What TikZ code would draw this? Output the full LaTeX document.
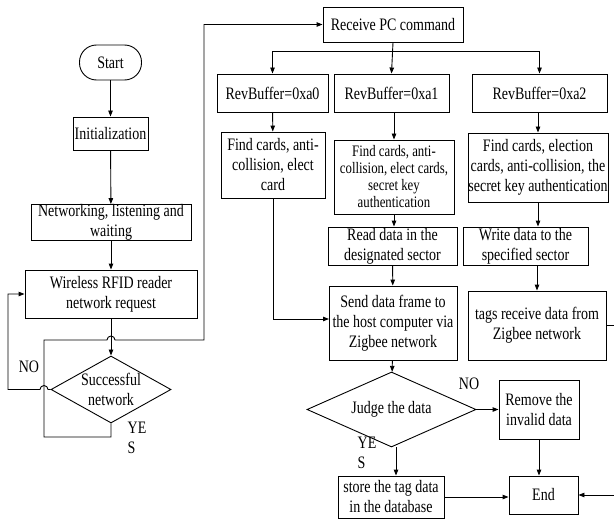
\documentclass[tikz,border=0pt]{standalone}
\usepackage{fontspec}
\setmainfont{Liberation Serif}[FakeStretch=0.8]
\usetikzlibrary{arrows.meta,shapes.geometric}
\begin{document}
\begin{tikzpicture}[x=1pt,y=-1pt,
  every node/.style={font=\fontsize{17.5}{20}\selectfont},
  box/.style={draw,line width=0.9pt,inner sep=0pt,align=center},
  small/.style={font=\fontsize{16}{17}\selectfont},
  lbl/.style={inner sep=0pt,align=center},
  arr/.style={line width=0.9pt,-{Triangle[length=6pt,width=4.5pt]}},
  ln/.style={line width=0.9pt}]
\useasboundingbox (0,0) rectangle (614,519);
% left column
\node[box,rounded corners=17pt,minimum width=62,minimum height=35] (start) at (110.5,62.5) {Start};
\node[box,minimum width=75,minimum height=33] (init) at (110.5,133.5) {Initialization};
\node[box,minimum width=160,minimum height=33] (net) at (111,222.5) {Networking, listening and\\waiting};
\node[box,minimum width=172,minimum height=48] (wire) at (111,294) {Wireless RFID reader\\network request};
\node[draw,diamond,line width=0.9pt,inner sep=0pt,minimum width=120,minimum height=67] (dia) at (111,389.5) {};
\node[lbl] (diat) at (111,389.5) {Successful\\network};
\node[lbl] (no1) at (29,367) {NO};
\node[lbl,align=left] (yes1) at (137,438) {YE\\S};
% top
\node[box,minimum width=140,minimum height=35] (recv) at (393,24.5) {Receive PC command};
\node[box,minimum width=111,minimum height=38] (a0) at (272.5,93) {RevBuffer=0xa0};
\node[box,minimum width=115,minimum height=38] (a1) at (391.5,93) {RevBuffer=0xa1};
\node[box,minimum width=135,minimum height=38] (a2) at (539.5,93) {RevBuffer=0xa2};
\node[box,minimum width=104,minimum height=66] (f0) at (273,165) {Find cards, anti-\\collision, elect\\card};
\node[box,small,minimum width=120,minimum height=74] (f1) at (394,177) {Find cards, anti-\\collision, elect cards,\\secret key\\authentication};
\node[box,minimum width=140,minimum height=69] (f2) at (538,167.5) {Find cards, election\\cards, anti-collision, the\\secret key authentication};
\node[box,minimum width=129,minimum height=38] (read) at (392.5,246) {Read data in the\\designated sector};
\node[box,minimum width=125,minimum height=38] (write) at (525.5,246) {Write data to the\\specified sector};
\node[box,minimum width=128,minimum height=74] (send) at (393,323) {Send data frame to\\the host computer via\\Zigbee network};
\node[box,minimum width=138,minimum height=69] (tags) at (537,325.5) {tags receive data from\\Zigbee network};
\node[draw,diamond,line width=0.9pt,inner sep=0pt,minimum width=169,minimum height=75] (judge) at (391.5,409.5) {};
\node[lbl] (judget) at (391.5,409) {Judge the data};
\node[box,minimum width=80,minimum height=59] (remove) at (539,409.5) {Remove the\\invalid data};
\node[box,minimum width=106,minimum height=42] (store) at (391,497) {store the tag data\\in the database};
\node[box,minimum width=69,minimum height=38] (end) at (543.5,495) {End};
\node[lbl] (no2) at (469,384) {NO};
\node[lbl,align=left] (yes2) at (367,453) {YE\\S};
% coordinates
\coordinate (br) at (393,51);
\coordinate (yl1) at (111,437);
\coordinate (yl2) at (44,437);
\coordinate (yl3) at (44,340);
\coordinate (yl4) at (107,340);
\coordinate (yl5) at (204,340);
\coordinate (yl6) at (204,24.5);
\coordinate (nl1) at (48,389.5);
\coordinate (nl2) at (8,389.5);
\coordinate (nl3) at (8,294);
\coordinate (s1) at (273,319);
\coordinate (s2) at (329,319);
\coordinate (te1) at (618,325.5);
\coordinate (te2) at (618,495);
% connectors left
\draw[arr] (start) -- (init);
\draw[arr] (init) -- (net);
\draw[arr] (net) -- (wire);
\draw[arr] (wire) -- (dia);
\draw[arr] (dia.south) -- (yl1) -- (yl2) -- (yl3) -- (yl4) arc (180:360:4) -- (yl5) -- (yl6) -- (recv.west);
\draw[arr] (dia.west) -- (nl1) arc (0:-180:4) -- (nl2) -- (nl3) -- (wire.west);
% connectors right
\draw[arr] (recv.south) -- (a1.north);
\draw[arr] (br) -| (a0.north);
\draw[arr] (br) -| (a2.north);
\draw[arr] (a0) -- (f0);
\draw[arr] (a1.south -| f1.north) -- (f1.north);
\draw[arr] (a2.south -| f2.north) -- (f2.north);
\draw[arr] (f1.south) -- (f1.south |- read.north);
\draw[arr] (f2.south) -- (f2.south |- write.north);
\draw[arr] (read) -- (send);
\draw[arr] (tags.north |- write.south) -- (tags.north);
\draw[arr] (f0.south) -- (s1) -- (s2);
\draw[arr] (send) -- (judge);
\draw[arr] (judge.east) -- (remove.west);
\draw[arr] ([xshift=4.5pt]judge.south) -- ([xshift=4.5pt]judge.south |- store.north);
\draw[arr] (remove.south) -- (remove.south |- end.north);
\draw[arr] (store.east) -- (store.east -| end.west);
\draw[arr] (tags.east) -- (te1) -- (te2) -- (end.east);
\end{tikzpicture}
\end{document}
